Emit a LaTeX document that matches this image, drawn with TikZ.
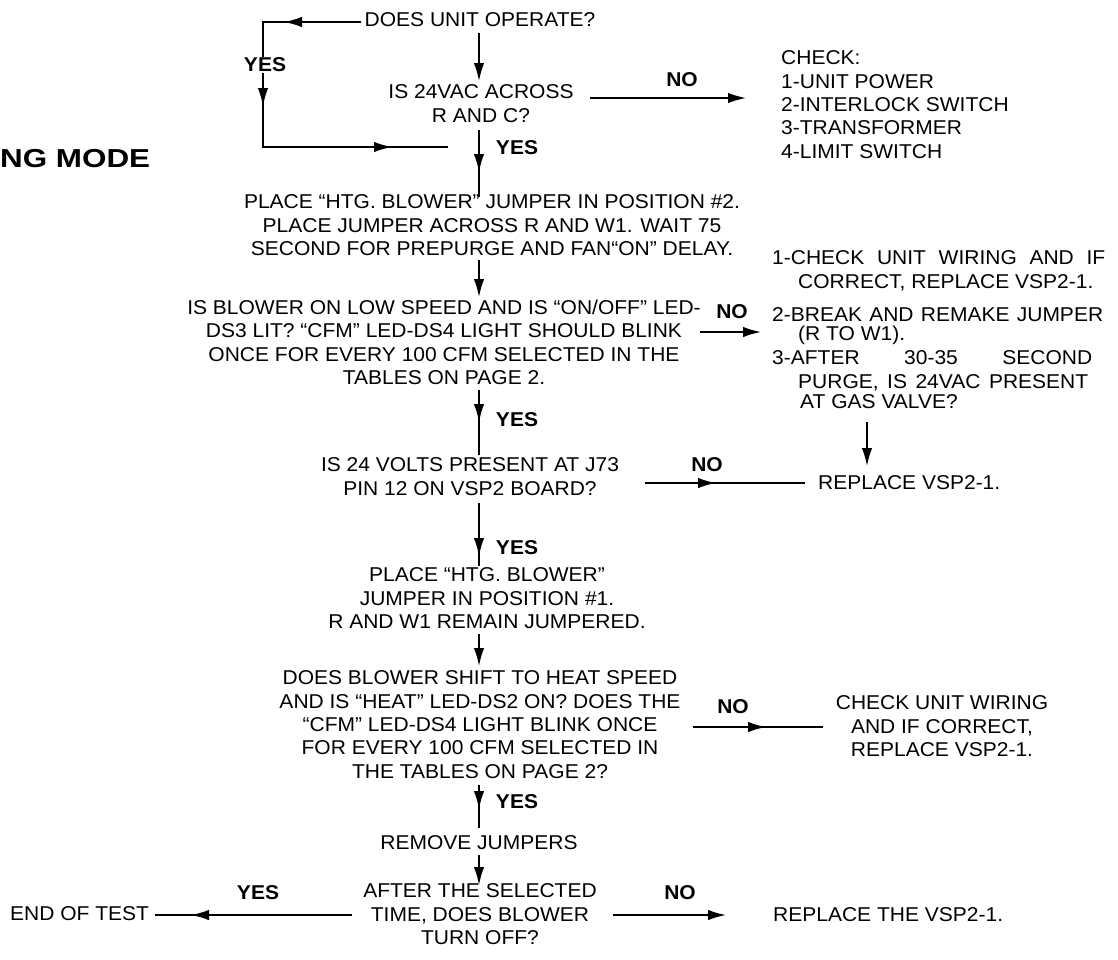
\documentclass[tikz,border=0pt]{standalone}
\usepackage{fontspec}
\setmainfont{Liberation Sans}[FakeStretch=1.05]
\usetikzlibrary{arrows.meta,decorations.markings}
\tikzset{
  txt/.style={inner sep=0pt, align=center, anchor=north, font=\fontsize{20}{23.3}\selectfont},
  ltxt/.style={inner sep=0pt, align=left, anchor=north west, font=\fontsize{20}{23.3}\selectfont},
  lbl/.style={inner sep=0pt, anchor=north, font=\fontsize{20}{23.3}\selectfont\bfseries},
  conn/.style={line width=2.8pt},
  tip/.tip={Latex[length=19pt,width=10.5pt]},
  arr/.style={conn, -tip},
  midarr/.style={conn, postaction={decorate}, decoration={markings, mark=at position #1 with {\arrow{tip}}}},
}
\begin{document}
\begin{tikzpicture}[x=1pt,y=-1pt]
\useasboundingbox (0,0) rectangle (1118,959);

% title fragment
\node[inner sep=0pt, anchor=west, font=\fontsize{26}{28}\selectfont\bfseries] (ng) at (0,159) {\scalebox{1.15}[1]{NG MODE}};

% main column
\node[txt] (q1) at (480,12.7) {DOES UNIT OPERATE?};
\node[txt] (q2) at (481,84.7) {IS 24VAC ACROSS\\R AND C?};
\node[ltxt] (chk) at (781,50.7) {CHECK:\\1-UNIT POWER\\2-INTERLOCK SWITCH\\3-TRANSFORMER\\4-LIMIT SWITCH};
\node[txt] (p2) at (492,194.7) {PLACE “HTG. BLOWER” JUMPER IN POSITION \#2.\\PLACE JUMPER ACROSS R AND W1. WAIT 75\\SECOND FOR PREPURGE AND FAN“ON” DELAY.};
\node[txt] (q3) at (444,299.7) {IS BLOWER ON LOW SPEED AND IS “ON/OFF” LED-\\DS3 LIT? “CFM” LED-DS4 LIGHT SHOULD BLINK\\ONCE FOR EVERY 100 CFM SELECTED IN THE\\TABLES ON PAGE 2.};
\node[txt] (q4) at (470,457.7) {IS 24 VOLTS PRESENT AT J73\\PIN 12 ON VSP2 BOARD?};
\node[txt] (p1) at (487,567.7) {PLACE “HTG. BLOWER”\\JUMPER IN POSITION \#1.\\R AND W1 REMAIN JUMPERED.};
\node[txt] (q5) at (480,670.7) {DOES BLOWER SHIFT TO HEAT SPEED\\AND IS “HEAT” LED-DS2 ON? DOES THE\\“CFM” LED-DS4 LIGHT BLINK ONCE\\FOR EVERY 100 CFM SELECTED IN\\THE TABLES ON PAGE 2?};
\node[txt] (rm) at (479,835.7) {REMOVE JUMPERS};
\node[txt] (q6) at (480,883.7) {AFTER THE SELECTED\\TIME, DOES BLOWER\\TURN OFF?};

% side texts
\node[ltxt] (r1) at (772,250.7) {\makebox[333pt][s]{1-CHECK UNIT WIRING AND IF}\\\hspace*{26pt}CORRECT, REPLACE VSP2-1.};
\node[ltxt] (r2) at (772,307.7) {\makebox[331pt][s]{2-BREAK AND REMAKE JUMPER}\\[-5pt]\hspace*{26pt}(R TO W1).};
\node[ltxt] (r3) at (772,350.7) {\makebox[320pt][s]{3-AFTER 30-35 SECOND}\\\hspace*{26pt}\makebox[290pt][s]{PURGE, IS 24VAC PRESENT}\\[-3pt]\hspace*{28pt}AT GAS VALVE?};
\node[ltxt] (rep1) at (818,475.7) {REPLACE VSP2-1.};
\node[txt] (chk2) at (942,695.7) {CHECK UNIT WIRING\\AND IF CORRECT,\\REPLACE VSP2-1.};
\node[ltxt] (rep2) at (773,907.7) {REPLACE THE VSP2-1.};
\node[ltxt] (end) at (10,906.7) {END OF TEST};

% labels
\node[lbl] (y1) at (517,140.7) {YES};
\node[lbl] (n1) at (682,72.7) {NO};
\node[lbl] (n2) at (732,304.7) {NO};
\node[lbl] (y2) at (517,412.7) {YES};
\node[lbl] (n3) at (707,457.7) {NO};
\node[lbl] (y3) at (517,540.7) {YES};
\node[lbl] (n4) at (733,699.7) {NO};
\node[lbl] (y4) at (517,794.7) {YES};
\node[lbl] (y5) at (258,885.7) {YES};
\node[lbl] (n5) at (680,885.7) {NO};

% coordinates
\coordinate (l0) at (361,22);
\coordinate (l1) at (263,22);
\coordinate (l2) at (263,147);
\coordinate (l3) at (448,147);
\coordinate (a1s) at (479,33);   \coordinate (a1e) at (479,82);
\coordinate (a2s) at (479,130);  \coordinate (a2e) at (479,197);
\coordinate (a3s) at (590,98);   \coordinate (a3e) at (747,98);
\coordinate (a4s) at (479,260);  \coordinate (a4e) at (479,298);
\coordinate (a5s) at (479,390);  \coordinate (a5e) at (479,455);
\coordinate (a6s) at (700,332);  \coordinate (a6e) at (762,332);
\coordinate (a7s) at (867,422);  \coordinate (a7e) at (867,467);
\coordinate (a8s) at (645,483);  \coordinate (a8e) at (805,483);
\coordinate (a9s) at (479,503);  \coordinate (a9e) at (479,566);
\coordinate (a10s) at (479,634); \coordinate (a10e) at (479,667);
\coordinate (a11s) at (479,785); \coordinate (a11e) at (479,828);
\coordinate (a12s) at (693,727); \coordinate (a12e) at (823,727);
\coordinate (a13s) at (479,855); \coordinate (a13e) at (479,886);
\coordinate (a14s) at (352,915); \coordinate (a14e) at (155,915);
\coordinate (a15s) at (613,915); \coordinate (a15e) at (727,915);

% YES loop
\draw[conn, postaction={decorate}, decoration={markings,
  mark=at position 78pt with {\arrow{tip}},
  mark=at position 183pt with {\arrow{tip}},
  mark=at position 353pt with {\arrow{tip}}}]
  (l0) -- (l1) -- (l2) -- (l3);
\node[lbl, fill=white, inner sep=1pt] (y0) at (265,56.7) {YES};

\draw[arr] (a1s) -- (a1e);
\draw[midarr=43pt] (a2s) -- (a2e);
\draw[arr] (a3s) -- (a3e);
\draw[arr] (a4s) -- (a4e);
\draw[midarr=33pt] (a5s) -- (a5e);
\draw[arr] (a6s) -- (a6e);
\draw[arr] (a7s) -- (a7e);
\draw[midarr=72pt] (a8s) -- (a8e);
\draw[midarr=54pt] (a9s) -- (a9e);
\draw[arr] (a10s) -- (a10e);
\draw[midarr=25pt] (a11s) -- (a11e);
\draw[midarr=74pt] (a12s) -- (a12e);
\draw[arr] (a13s) -- (a13e);
\draw[midarr=162pt] (a14s) -- (a14e);
\draw[arr] (a15s) -- (a15e);
\end{tikzpicture}
\end{document}
